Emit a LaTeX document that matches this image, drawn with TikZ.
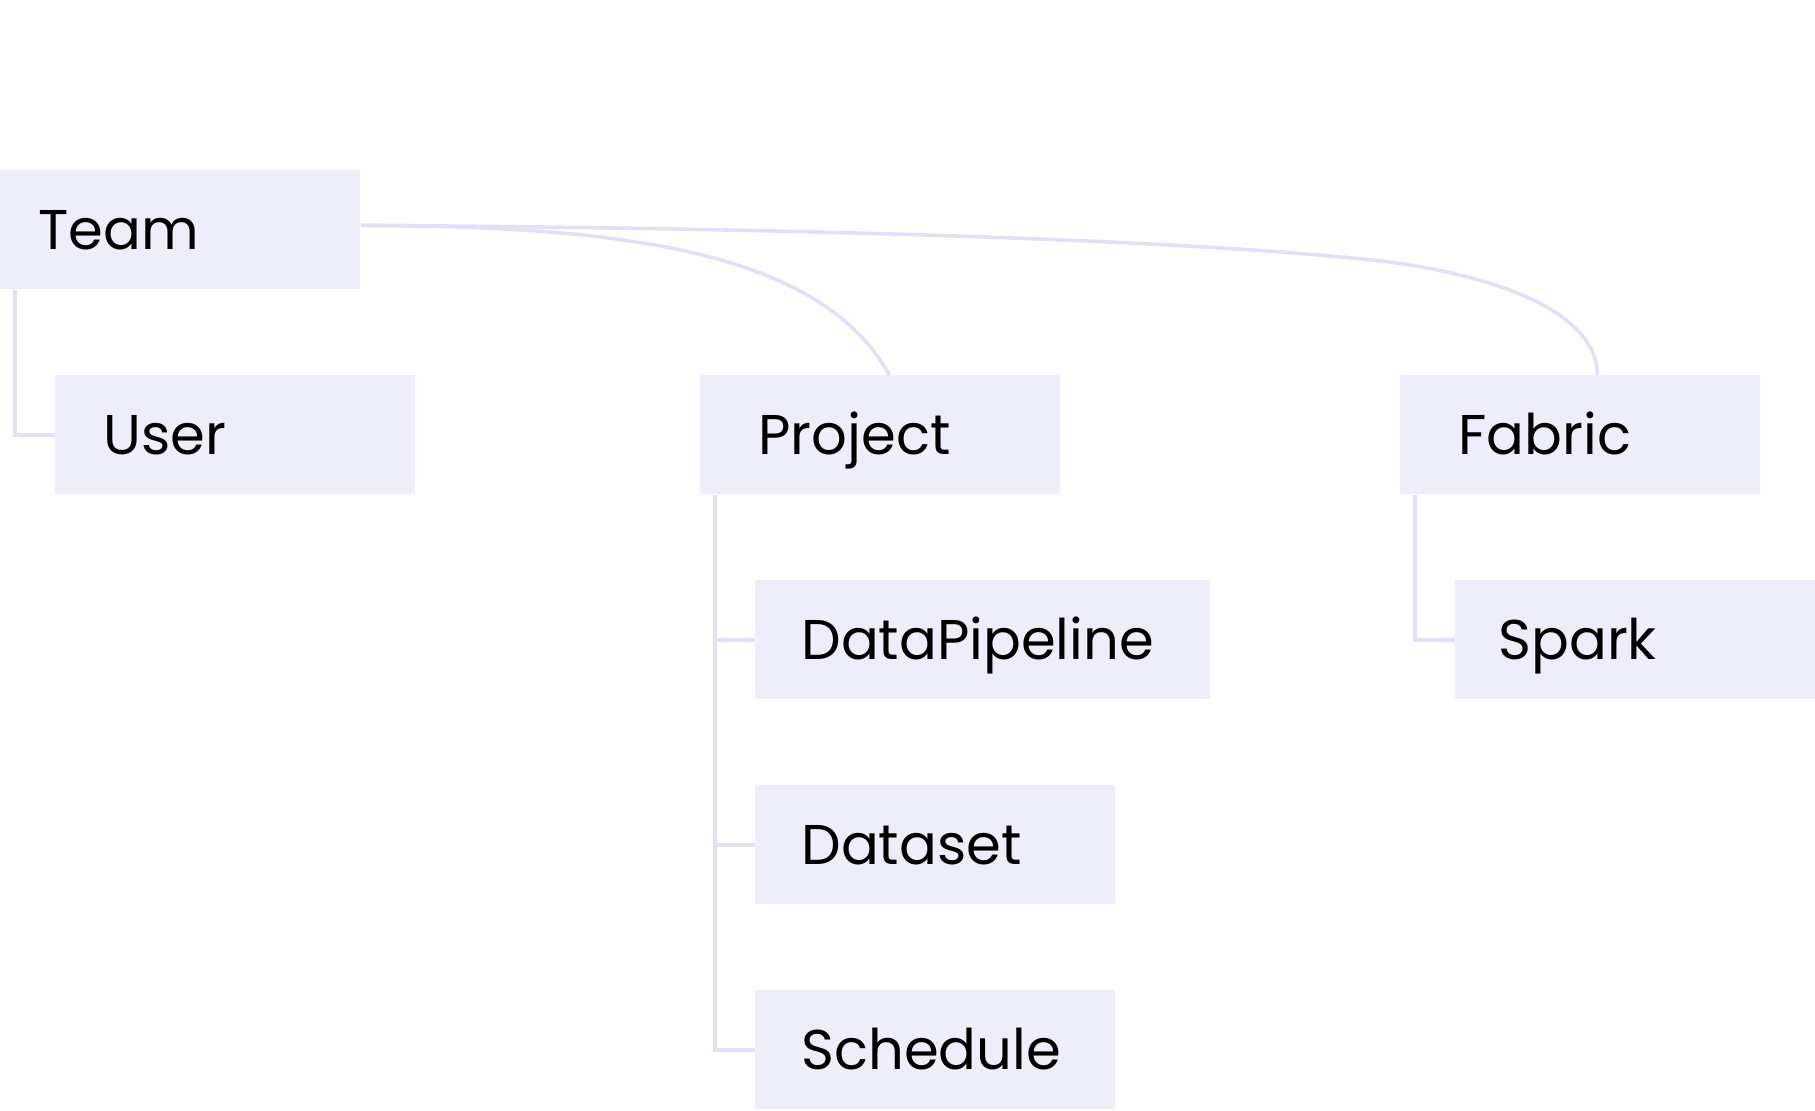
\documentclass[tikz,border=0pt]{standalone}
\usepackage{fontspec}
\setmainfont{Poppins}
\usetikzlibrary{positioning}
\definecolor{boxfill}{RGB}{238,238,250}
\definecolor{linkline}{RGB}{224,224,247}

\begin{document}
\begin{tikzpicture}[x=0.5pt,y=-0.5pt,
  box/.style={fill=boxfill, anchor=north west, minimum height=59.5pt, align=left,
    text height=19.5pt, text depth=0pt, font=\fontsize{28}{32}\selectfont},
  link/.style={draw=linkline, line width=1.8pt}]

\useasboundingbox (0,0) rectangle (1815,1110);

% define the boxes
  \node[box, inner xsep=19pt, text width=142pt]     (team)     at (0,170)    {Team};
  \node[box, inner xsep=24pt, text width=132pt]     (user)     at (55,375)   {User};
  \node[box, inner xsep=29pt, text width=122pt]     (project)  at (700,375)  {Project};
  \node[box, inner xsep=29pt, text width=122pt]     (fabric)   at (1400,375) {Fabric};
  \node[box, inner xsep=23pt, text width=181.5pt]   (pipeline) at (755,580)  {DataPipeline};
  \node[box, inner xsep=23pt, text width=134pt]     (dataset)  at (755,785)  {Dataset};
  \node[box, inner xsep=23pt, text width=134pt]     (schedule) at (755,990)  {Schedule};
  \node[box, inner xsep=21.5pt, text width=137pt]   (spark)    at (1455,580) {Spark};

% define the links
  \draw[link] ([yshift=2.25pt]team.east) .. controls (620,226) and (820,250) .. ([xshift=4.5pt]project.north);
  \draw[link] ([yshift=2.25pt]team.east) .. controls (800,228) and (1200,240) .. (1390,262)
                          .. controls (1520,280) and (1597,320) .. ([xshift=8.5pt]fabric.north);
  \draw[link] ([xshift=7.5pt]team.south west) |- (user.west);
  \draw[link] ([xshift=7.5pt]project.south west) |- (pipeline.west);
  \draw[link] ([xshift=7.5pt]project.south west) |- (dataset.west);
  \draw[link] ([xshift=7.5pt]project.south west) |- (schedule.west);
  \draw[link] ([xshift=7.5pt]fabric.south west) |- (spark.west);

\end{tikzpicture}
\end{document}
